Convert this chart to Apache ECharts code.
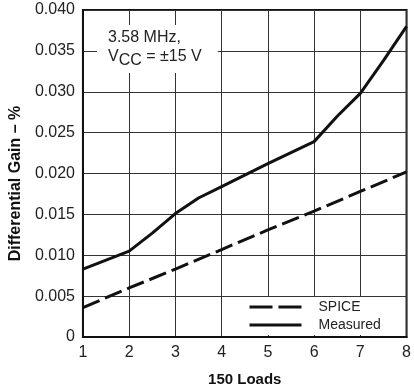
<!DOCTYPE html>
<html>
<head>
<meta charset="utf-8">
<script src="https://cdn.jsdelivr.net/npm/echarts@6/dist/echarts.min.js"></script>
<style>html,body{margin:0;padding:0;background:#fff;}#c{width:414px;height:392px;}</style>
</head>
<body>
<div id="c"></div>
<script>
var loads = [1, 2, 2.5, 3, 3.5, 4, 5, 6, 6.5, 7, 7.5, 8];
var measured = [0.0083, 0.0105, 0.0127, 0.0151, 0.0170, 0.0184, 0.0212, 0.0239, 0.0270, 0.0298, 0.0338, 0.0380];
var spiceLoads = [1, 2, 3, 4, 5, 6, 7, 8];
var spice = [0.0036, 0.0060, 0.0083, 0.0107, 0.0131, 0.0154, 0.0178, 0.0202];
var seriesNames = ['SPICE', 'Measured'];
var xTitle = '150 Loads';
var yTitle = 'Differential Gain \u2013 %';
var noteLine1 = '3.58 MHz,';

function pairs(xs, ys) { return xs.map(function (x, i) { return [x, ys[i]]; }); }

var FONT = 'Liberation Sans, Arial, sans-serif';
var chart = echarts.init(document.getElementById('c'), null, { renderer: 'canvas' });
chart.setOption({
  animation: false,
  backgroundColor: '#fff',
  grid: { left: 80, right: 7, top: 10, bottom: 54, show: true, borderColor: '#111', borderWidth: 2, backgroundColor: '#fff', containLabel: false },
  title: {
    text: noteLine1 + '\n{v|V}{s|CC}{v| = \u00b115 V}',
    left: 97, top: 25,
    padding: [3, 16, 4, 11],
    backgroundColor: '#fff',
    textStyle: {
      fontFamily: FONT, fontSize: 16, fontWeight: 'normal', color: '#222', lineHeight: 20,
      rich: {
        v: { fontFamily: FONT, fontSize: 16, color: '#222', lineHeight: 18 },
        s: { fontFamily: FONT, fontSize: 16, color: '#222', lineHeight: 18, padding: [8, 0, 0, 0] }
      }
    }
  },
  legend: {
    show: true,
    orient: 'vertical',
    left: 240, top: 297,
    padding: [3, 12, 3, 8],
    itemGap: 4,
    itemWidth: 52, itemHeight: 14,
    backgroundColor: '#fff',
    itemStyle: { opacity: 0, borderWidth: 0 },
    textStyle: { fontFamily: FONT, fontSize: 14, color: '#222', padding: [0, 0, 0, 12] },
    data: [
      { name: seriesNames[0], lineStyle: { type: [23, 6], width: 3, color: '#111' } },
      { name: seriesNames[1], lineStyle: { width: 3, color: '#111' } }
    ]
  },
  xAxis: {
    type: 'value', min: 1, max: 8, interval: 1,
    name: xTitle, nameLocation: 'middle', nameGap: 35,
    nameTextStyle: { fontFamily: FONT, fontSize: 15, fontWeight: 'bold', color: '#111' },
    axisLine: { lineStyle: { color: '#111', width: 2 } },
    axisTick: { show: false },
    axisLabel: { fontFamily: FONT, fontSize: 16, color: '#222', margin: 8 },
    splitLine: { show: true, lineStyle: { color: '#333', width: 1 } }
  },
  yAxis: {
    type: 'value', min: 0, max: 0.04, interval: 0.005,
    name: yTitle, nameLocation: 'middle', nameGap: 56,
    nameTextStyle: { fontFamily: FONT, fontSize: 16, fontWeight: 'bold', color: '#111', padding: [0, 20, 0, 0] },
    axisLine: { show: true, lineStyle: { color: '#111', width: 2 } },
    axisTick: { show: false },
    axisLabel: { fontFamily: FONT, fontSize: 16, color: '#222', margin: 8,
      formatter: function (v) { return v === 0 ? '0' : v.toFixed(3); } },
    splitLine: { show: true, lineStyle: { color: '#333', width: 1 } }
  },
  series: [
    { name: seriesNames[0], type: 'line', data: pairs(spiceLoads, spice), symbol: 'none', z: 3,
      lineStyle: { color: '#111', width: 3, type: [18, 6] }, itemStyle: { color: '#111' } },
    { name: seriesNames[1], type: 'line', data: pairs(loads, measured), symbol: 'none', z: 3,
      lineStyle: { color: '#111', width: 3 }, itemStyle: { color: '#111' } }
  ]
});
</script>
</body>
</html>
